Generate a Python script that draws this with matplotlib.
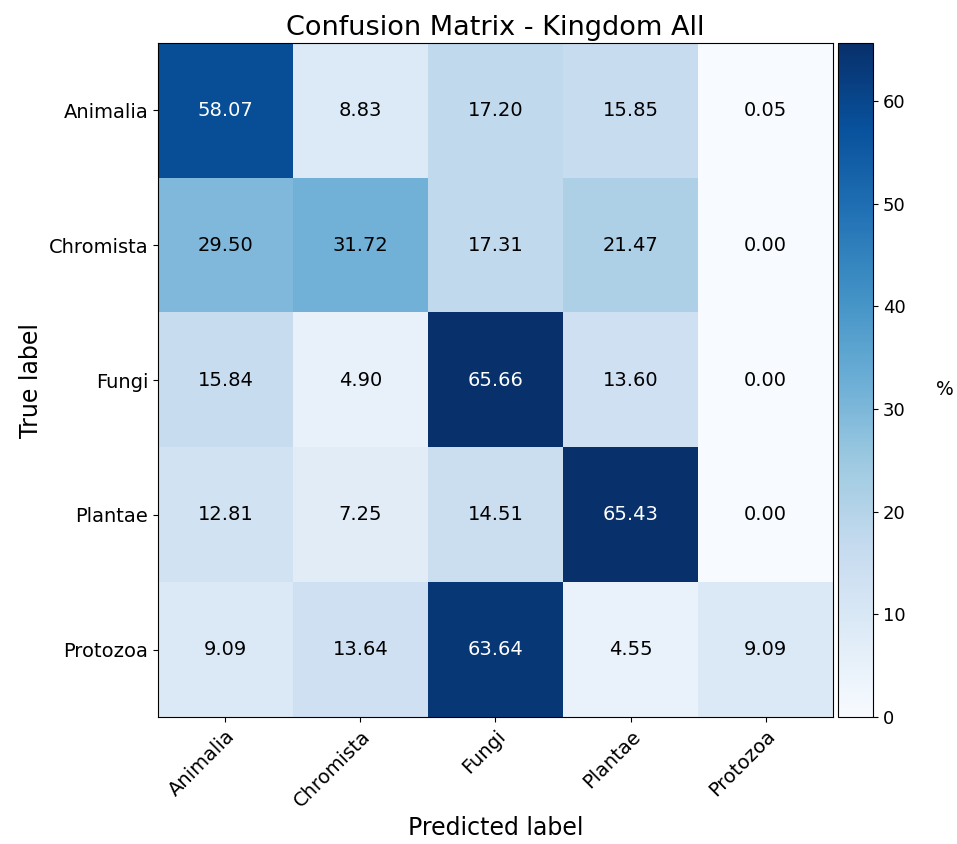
import numpy as np
import matplotlib.pyplot as plt

classes = ["Animalia", "Chromista", "Fungi", "Plantae", "Protozoa"]

# row-normalised confusion matrix (%), rows = true, cols = predicted
cm_animalia = [58.07, 8.83, 17.20, 15.85, 0.05]
cm_chromista = [29.50, 31.72, 17.31, 21.47, 0.00]
cm_fungi = [15.84, 4.90, 65.66, 13.60, 0.00]
cm_plantae = [12.81, 7.25, 14.51, 65.43, 0.00]
cm_protozoa = [9.09, 13.64, 63.64, 4.55, 9.09]

cm = np.array([cm_animalia, cm_chromista, cm_fungi, cm_plantae, cm_protozoa])

fig = plt.figure(figsize=(9.57, 8.44), dpi=100)
ax = fig.add_axes([0.165, 0.1505, 0.7055, 0.7985])
cax = fig.add_axes([0.8757, 0.1505, 0.0366, 0.7985])

im = ax.imshow(cm, interpolation="nearest", cmap=plt.cm.Blues, aspect="auto")
cbar = fig.colorbar(im, cax=cax)
cbar.ax.tick_params(labelsize=13)
cbar.set_label("%", rotation=0, fontsize=13.5, labelpad=28, va="top")

ax.set_xticks(np.arange(len(classes)))
ax.set_yticks(np.arange(len(classes)))
ax.set_xticklabels(classes, rotation=45, ha="right", rotation_mode="anchor", fontsize=14)
ax.set_yticklabels(classes, fontsize=14)
ax.set_title("Confusion Matrix - Kingdom All", fontsize=19.5)
ax.set_xlabel("Predicted label", fontsize=17)
ax.set_ylabel("True label", fontsize=17)

# cell values, white on dark cells
thresh = cm.max() / 2.0
for i in range(cm.shape[0]):
    for j in range(cm.shape[1]):
        ax.text(j, i, f"{cm[i, j]:.2f}", ha="center", va="center", fontsize=14,
                color="white" if cm[i, j] > thresh else "black")

fig.savefig("out.png", dpi=100)
